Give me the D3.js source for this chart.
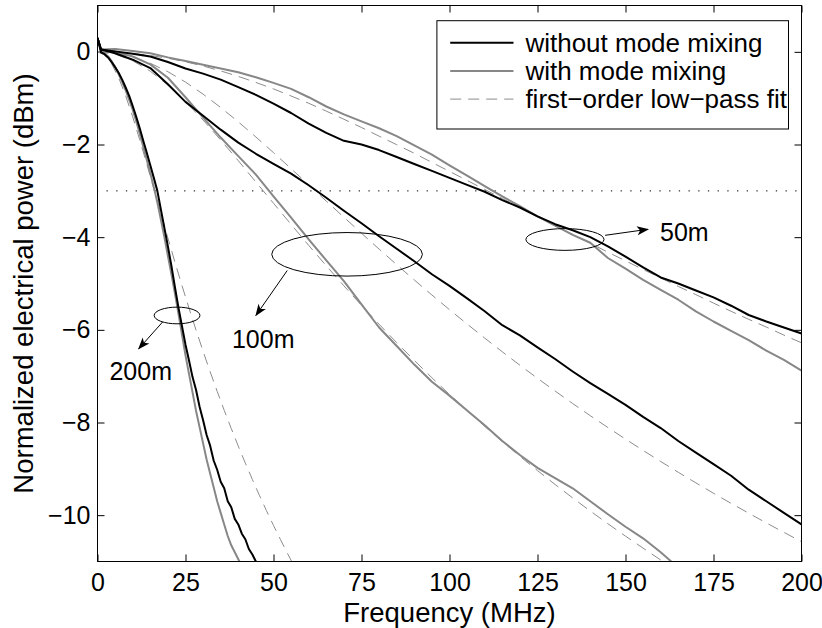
<!DOCTYPE html>
<html>
<head>
<meta charset="utf-8">
<script src="https://cdn.jsdelivr.net/npm/d3@7"></script>
<style>
  body { margin: 0; background: #fff; }
  svg text { font-family: "Liberation Sans", Arial, Helvetica, sans-serif; fill: #000; }
</style>
</head>
<body>
<div id="chart"></div>
<script>
// frequency grid (MHz) for the 50 m / 100 m measurements
const freqGrid = [0, 1, 5, 10, 15, 20, 25, 30, 35, 40, 45, 50, 55, 60, 65, 70, 75, 80, 85, 90, 95, 100,
  105, 110, 115, 120, 125, 130, 135, 140, 145, 150, 155, 160, 165, 170, 175, 180, 185, 190, 195, 200];
const freqG100 = [0, 1, 5, 10, 15, 20, 25, 30, 35, 40, 45, 50, 55, 60, 65, 70, 75, 80, 85, 90, 95, 100,
  105, 110, 115, 120, 125, 130, 135, 140, 145, 150, 155, 160, 163];
const freq200b = [0, 1, 2, 3, 4, 5, 6, 7, 8, 9, 10, 11, 12, 13, 14, 15, 16, 17, 18, 19, 20, 21, 22, 23,
  24, 25, 26, 27, 28, 29, 30, 31, 32, 33, 34, 35, 36, 37, 38, 39, 40, 41, 42, 43, 44, 45, 46];
const freq200g = [0, 1, 2, 3, 4, 5, 6, 7, 8, 9, 10, 11, 12, 13, 14, 15, 16, 17, 18, 19, 20, 21, 22, 23,
  24, 25, 26, 27, 28, 29, 30, 31, 32, 33, 34, 35, 36, 37, 38, 39, 40, 41];

// measured, without mode mixing (dBm)
const b50 = [0.3, 0.05, 0.01, -0.04, -0.1, -0.22, -0.36, -0.47, -0.6, -0.76, -0.93, -1.12, -1.32, -1.55,
  -1.75, -1.92, -2.0, -2.12, -2.27, -2.42, -2.57, -2.72, -2.87, -3.02, -3.2, -3.36, -3.55, -3.72, -3.85,
  -4.0, -4.2, -4.42, -4.65, -4.87, -5.0, -5.15, -5.3, -5.48, -5.68, -5.82, -5.95, -6.08];
const b100 = [0.3, 0.05, -0.03, -0.17, -0.35, -0.7, -1.08, -1.38, -1.68, -1.96, -2.2, -2.42, -2.63, -2.88,
  -3.15, -3.43, -3.7, -3.98, -4.25, -4.52, -4.8, -5.05, -5.32, -5.6, -5.9, -6.12, -6.38, -6.63, -6.9,
  -7.15, -7.38, -7.62, -7.88, -8.12, -8.4, -8.65, -8.9, -9.15, -9.45, -9.7, -9.95, -10.2];
const b200 = [0.3, -0.01, -0.05, -0.12, -0.22, -0.33, -0.45, -0.6, -0.77, -0.95, -1.17, -1.4, -1.65, -1.92,
  -2.18, -2.45, -2.72, -3.0, -3.4, -3.8, -4.2, -4.62, -5.08, -5.52, -5.92, -6.32, -6.66, -7.02, -7.3,
  -7.66, -7.95, -8.27, -8.5, -8.82, -9.02, -9.28, -9.42, -9.7, -9.83, -10.08, -10.2, -10.4, -10.52,
  -10.73, -10.85, -11.0, -11.15];

// measured, with mode mixing (dBm)
const g50 = [0.3, 0.05, 0.06, 0.02, -0.03, -0.12, -0.2, -0.28, -0.36, -0.44, -0.55, -0.67, -0.8, -0.98,
  -1.18, -1.35, -1.5, -1.65, -1.82, -2.02, -2.22, -2.45, -2.67, -2.9, -3.12, -3.33, -3.55, -3.75, -3.95,
  -4.12, -4.45, -4.68, -4.92, -5.14, -5.35, -5.6, -5.82, -6.02, -6.22, -6.45, -6.65, -6.88];
const g100 = [0.3, 0.05, 0.0, -0.1, -0.27, -0.56, -0.98, -1.42, -1.85, -2.25, -2.65, -3.12, -3.58, -4.05,
  -4.5, -4.95, -5.45, -5.95, -6.35, -6.75, -7.12, -7.42, -7.74, -8.06, -8.4, -8.7, -8.98, -9.2, -9.42,
  -9.7, -9.98, -10.25, -10.5, -10.8, -11.0];
const g200 = [0.3, 0.02, -0.03, -0.1, -0.2, -0.33, -0.48, -0.65, -0.83, -1.03, -1.25, -1.5, -1.77, -2.05,
  -2.33, -2.62, -2.92, -3.25, -3.62, -4.0, -4.4, -4.8, -5.22, -5.65, -6.1, -6.55, -6.95, -7.35, -7.75,
  -8.1, -8.45, -8.8, -9.1, -9.4, -9.7, -9.95, -10.2, -10.45, -10.65, -10.8, -10.95, -11.1];

// first-order low-pass fits
const fitFreq = [0, 5, 10, 15, 20, 25, 30, 35, 40, 45, 50, 55, 60, 65, 70, 75, 80, 85, 90, 95, 100, 105,
  110, 115, 120, 125, 130, 135, 140, 145, 150, 155, 160, 165, 170, 175, 180, 185, 190, 195, 200];
const fit50 = [0, -0.009, -0.035, -0.079, -0.139, -0.215, -0.306, -0.412, -0.53, -0.661, -0.8, -0.953,
  -1.11, -1.28, -1.455, -1.633, -1.82, -2.004, -2.19, -2.387, -2.58, -2.776, -2.97, -3.167, -3.36, -3.556,
  -3.75, -3.943, -4.13, -4.324, -4.51, -4.698, -4.88, -5.064, -5.24, -5.423, -5.6, -5.773, -5.94, -6.113, -6.28];
const fit100b = [0, -0.028, -0.111, -0.247, -0.429, -0.654, -0.914, -1.202, -1.511, -1.838, -2.176, -2.522,
  -2.87, -3.222, -3.57, -3.915, -4.257, -4.593, -4.924, -5.248, -5.565, -5.875, -6.178, -6.474, -6.764,
  -7.046, -7.321, -7.591, -7.853, -8.109, -8.358, -8.603, -8.842, -9.075, -9.303, -9.527, -9.745, -9.957,
  -10.167, -10.371, -10.572];
const fit100g = [0, -0.048, -0.191, -0.418, -0.717, -1.074, -1.473, -1.903, -2.35, -2.81, -3.268, -3.725,
  -4.177, -4.618, -5.05, -5.472, -5.88, -6.277, -6.66, -7.034, -7.395, -7.744, -8.083, -8.411, -8.73,
  -9.038, -9.338, -9.628, -9.911, -10.185, -10.453, -10.712, -10.967, -11.21];
const fit200Freq = [0, 2, 4, 6, 8, 10, 12, 14, 16, 18, 20, 22, 24, 26, 28, 30, 32, 34, 36, 38, 40, 42, 44,
  46, 48, 50, 52, 54, 56];
const fit200 = [0, -0.066, -0.257, -0.558, -0.947, -1.402, -1.9, -2.42, -2.958, -3.49, -4.02, -4.54,
  -5.045, -5.534, -6.006, -6.463, -6.904, -7.328, -7.737, -8.13, -8.511, -8.877, -9.231, -9.572, -9.903,
  -10.222, -10.53, -10.83, -11.12];

const xTicks = [0, 25, 50, 75, 100, 125, 150, 175, 200];
const yTicks = [-10, -8, -6, -4, -2, 0];
const legendLabels = ['without mode mixing', 'with mode mixing', 'first\u2212order low\u2212pass fit'];

// annotations in data units: ellipse centre/radii, arrow from -> to, label position
const annoLabels = ['50m', '100m', '200m'];
const annoEllipse = [[132.8, -4.05, 11.1, 0.235], [70.9, -4.37, 21.4, 0.47], [22.6, -5.69, 6.5, 0.18]];
const annoArrow = [[144.2, -3.96, 156.4, -3.83], [53.9, -4.72, 45.0, -5.69], [18.5, -5.83, 11.7, -6.41]];
const annoText = [[159.8, -4.09], [38.2, -6.4], [3.4, -7.09]];

const W = 822, H = 628;
const margin = { top: 5.5, right: 20.5, bottom: 66.5, left: 97.5 };
const width = W - margin.left - margin.right;
const height = H - margin.top - margin.bottom;
const FS = 25;      // tick labels, annotations
const FS_LEG = 26;  // legend
const FS_LAB = 27.5; // axis titles

const x = d3.scaleLinear().domain([0, 200]).range([0, width]);
const y = d3.scaleLinear().domain([-11, 1]).range([height, 0]);

const svg = d3.select('#chart').append('svg')
  .attr('width', W)
  .attr('height', H)
  .append('g')
  .attr('transform', 'translate(' + margin.left + ',' + margin.top + ')');

svg.append('defs').append('clipPath').attr('id', 'plot-clip')
  .append('rect').attr('width', width).attr('height', height);

svg.select('defs').append('marker')
  .attr('id', 'arrowhead')
  .attr('viewBox', '-12 -6 14 12')
  .attr('markerWidth', 14)
  .attr('markerHeight', 12)
  .attr('markerUnits', 'userSpaceOnUse')
  .attr('orient', 'auto')
  .append('path')
  .attr('d', 'M1,0 L-11,-4.5 L-8,0 L-11,4.5 Z')
  .attr('fill', '#000');

// axes with inward ticks on all four sides
function styleAxis(g) {
  g.select('.domain').remove();
  g.selectAll('.tick line').attr('stroke', '#000').attr('stroke-width', 1);
  g.selectAll('text').attr('font-size', FS).attr('font-family', '"Liberation Sans", Arial, sans-serif');
}

svg.append('g')
  .attr('transform', 'translate(0,' + height + ')')
  .call(d3.axisBottom(x).tickValues(xTicks).tickSize(-7).tickPadding(12))
  .call(styleAxis);
svg.append('g')
  .call(d3.axisTop(x).tickValues(xTicks).tickSize(-7).tickFormat(''))
  .call(styleAxis);
svg.append('g')
  .call(d3.axisLeft(y).tickValues(yTicks).tickSize(-7).tickPadding(7))
  .call(styleAxis);
svg.append('g')
  .attr('transform', 'translate(' + width + ',0)')
  .call(d3.axisRight(y).tickValues(yTicks).tickSize(-7).tickFormat(''))
  .call(styleAxis);

// -3 dB reference
svg.append('line')
  .attr('x1', x(0)).attr('x2', x(200))
  .attr('y1', y(-3)).attr('y2', y(-3))
  .attr('stroke', '#333')
  .attr('stroke-width', 1.2)
  .attr('stroke-dasharray', '1.3 8.4')
  .attr('stroke-dashoffset', -9);

const line = d3.line()
  .x(function (d) { return x(d[0]); })
  .y(function (d) { return y(d[1]); });

function pairs(fs, vs) { return fs.map(function (f, i) { return [f, vs[i]]; }); }

const plot = svg.append('g').attr('clip-path', 'url(#plot-clip)');

const fits = [pairs(fitFreq, fit50), pairs(fitFreq, fit100b), pairs(fitFreq.slice(0, fit100g.length), fit100g),
  pairs(fit200Freq, fit200)];
const grays = [pairs(freqGrid, g50), pairs(freqG100, g100), pairs(freq200g, g200)];
const blacks = [pairs(freqGrid, b50), pairs(freqGrid, b100), pairs(freq200b, b200)];

plot.selectAll('.fit').data(fits).enter().append('path')
  .attr('class', 'fit')
  .attr('d', line)
  .attr('fill', 'none')
  .attr('stroke', '#8c8c8c')
  .attr('stroke-width', 1)
  .attr('stroke-dasharray', '11 7');

plot.selectAll('.gray').data(grays).enter().append('path')
  .attr('class', 'gray')
  .attr('d', line)
  .attr('fill', 'none')
  .attr('stroke', '#878787')
  .attr('stroke-width', 2)
  .attr('stroke-linejoin', 'round');

plot.selectAll('.black').data(blacks).enter().append('path')
  .attr('class', 'black')
  .attr('d', line)
  .attr('fill', 'none')
  .attr('stroke', '#000')
  .attr('stroke-width', 2)
  .attr('stroke-linejoin', 'round');

// annotations
const anno = svg.append('g');
annoLabels.forEach(function (label, i) {
  const e = annoEllipse[i], a = annoArrow[i], t = annoText[i];
  anno.append('ellipse')
    .attr('cx', x(e[0])).attr('cy', y(e[1]))
    .attr('rx', x(e[2]) - x(0)).attr('ry', y(0) - y(e[3]))
    .attr('fill', 'none').attr('stroke', '#000').attr('stroke-width', 1);
  anno.append('line')
    .attr('x1', x(a[0])).attr('y1', y(a[1]))
    .attr('x2', x(a[2])).attr('y2', y(a[3]))
    .attr('stroke', '#000').attr('stroke-width', 1)
    .attr('marker-end', 'url(#arrowhead)');
  anno.append('text')
    .attr('x', x(t[0])).attr('y', y(t[1]))
    .attr('font-size', FS)
    .text(label);
});

// frame
svg.append('rect')
  .attr('width', width).attr('height', height)
  .attr('fill', 'none').attr('stroke', '#000').attr('stroke-width', 1);

// legend
const lg = svg.append('g').attr('transform', 'translate(' + (width - 13 - 351.6) + ',15.2)');
lg.append('rect')
  .attr('width', 351.6).attr('height', 108.3)
  .attr('fill', '#fff').attr('stroke', '#000').attr('stroke-width', 1);
const legendStyle = [['#000', 2, null], ['#878787', 2, null], ['#8c8c8c', 1, '11 7']];
legendLabels.forEach(function (label, i) {
  const ly = 22 + i * 28.2;
  lg.append('line')
    .attr('x1', 13.3).attr('x2', 76.6).attr('y1', ly).attr('y2', ly)
    .attr('stroke', legendStyle[i][0]).attr('stroke-width', legendStyle[i][1])
    .attr('stroke-dasharray', legendStyle[i][2]);
  lg.append('text')
    .attr('x', 88.5).attr('y', ly).attr('dy', '0.35em')
    .attr('font-size', FS_LEG)
    .text(label);
});

// axis labels
svg.append('text')
  .attr('x', width / 2).attr('y', height + 60)
  .attr('text-anchor', 'middle')
  .attr('font-size', FS_LAB)
  .text('Frequency (MHz)');
svg.append('text')
  .attr('transform', 'translate(' + (23 - margin.left) + ',' + (height / 2) + ') rotate(-90)')
  .attr('text-anchor', 'middle')
  .attr('dy', '0.35em')
  .attr('font-size', FS_LAB)
  .text('Normalized electrical power (dBm)');
</script>
</body>
</html>
